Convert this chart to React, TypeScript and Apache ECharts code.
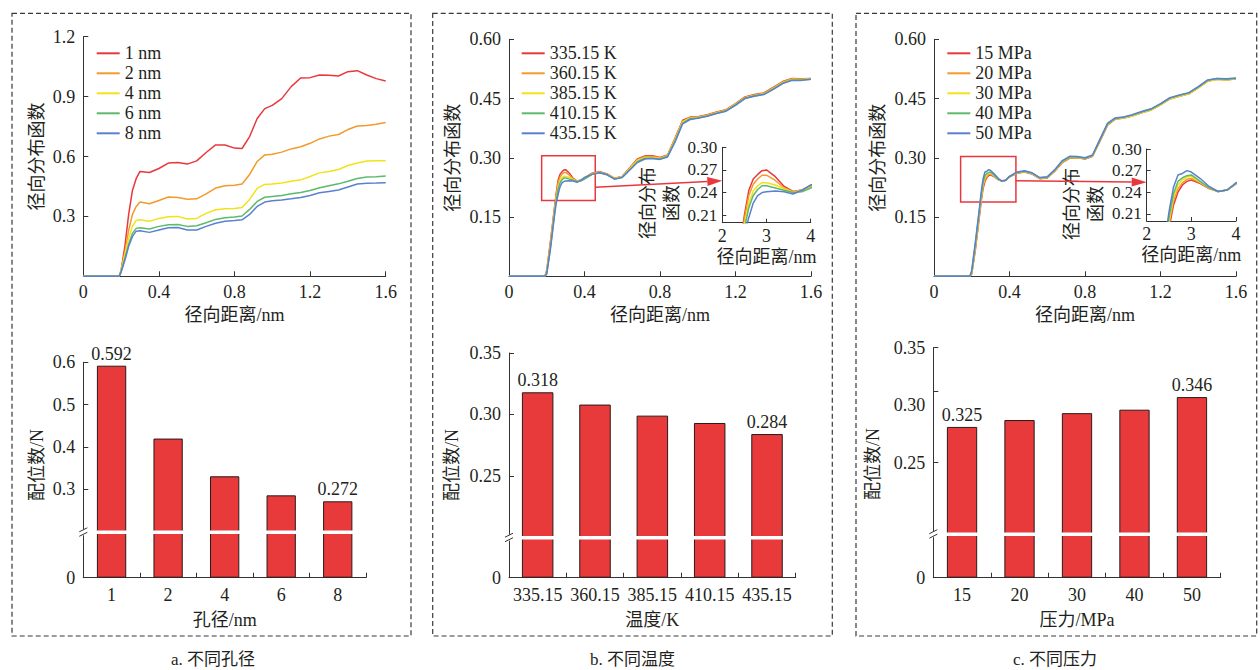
import React, { useEffect, useRef } from 'react';
import * as echarts from 'echarts';

const FONT = '"Liberation Serif", "Times New Roman", "Noto Sans CJK SC", serif';
const AX = '#333333';
const TXT = '#231f20';
const LINE_COLORS = ['#e8383d', '#f39a2b', '#f3e21a', '#5cba6a', '#5b80cf'];
const BAR_RED = '#e8393b';

// ---------- (a) pore size RDF ----------
const poreNames = ['1 nm', '2 nm', '4 nm', '6 nm', '8 nm'];
const poreX = [0, 0.19, 0.2, 0.22, 0.24, 0.26, 0.28, 0.3, 0.35, 0.4, 0.45, 0.5, 0.55, 0.6, 0.65, 0.7, 0.75, 0.8, 0.84, 0.88, 0.92, 0.96, 1.0, 1.05, 1.1, 1.15, 1.2, 1.25, 1.3, 1.35, 1.4, 1.45, 1.5, 1.55, 1.6];
const pore1 = [0, 0, 0.03, 0.15, 0.31, 0.43, 0.49, 0.525, 0.52, 0.54, 0.567, 0.57, 0.562, 0.578, 0.62, 0.658, 0.658, 0.642, 0.64, 0.7, 0.79, 0.84, 0.856, 0.89, 0.95, 0.993, 0.995, 1.008, 1.007, 1.003, 1.025, 1.03, 1.008, 0.99, 0.978];
const pore2 = [0, 0, 0.03, 0.12, 0.23, 0.31, 0.35, 0.372, 0.363, 0.38, 0.397, 0.395, 0.386, 0.388, 0.413, 0.442, 0.453, 0.456, 0.462, 0.51, 0.575, 0.608, 0.611, 0.622, 0.638, 0.649, 0.666, 0.688, 0.702, 0.71, 0.735, 0.753, 0.755, 0.761, 0.77];
const pore4 = [0, 0, 0.03, 0.11, 0.19, 0.25, 0.28, 0.283, 0.276, 0.29, 0.298, 0.3, 0.287, 0.29, 0.315, 0.333, 0.338, 0.34, 0.345, 0.385, 0.44, 0.46, 0.462, 0.467, 0.476, 0.483, 0.5, 0.518, 0.525, 0.535, 0.555, 0.567, 0.577, 0.579, 0.579];
const pore6 = [0, 0, 0.025, 0.09, 0.16, 0.215, 0.24, 0.243, 0.237, 0.25, 0.258, 0.259, 0.25, 0.253, 0.268, 0.285, 0.293, 0.297, 0.302, 0.335, 0.375, 0.396, 0.4, 0.405, 0.413, 0.42, 0.43, 0.443, 0.453, 0.463, 0.476, 0.49, 0.497, 0.499, 0.502];
const pore8 = [0, 0, 0.02, 0.08, 0.15, 0.2, 0.226, 0.228, 0.22, 0.232, 0.243, 0.244, 0.232, 0.232, 0.25, 0.266, 0.276, 0.279, 0.283, 0.31, 0.35, 0.372, 0.378, 0.382, 0.388, 0.395, 0.405, 0.418, 0.425, 0.432, 0.447, 0.462, 0.466, 0.467, 0.469];

// ---------- (b) temperature RDF ----------
const tempNames = ['335.15 K', '360.15 K', '385.15 K', '410.15 K', '435.15 K'];
const rdfX = [0, 0.19, 0.2, 0.22, 0.24, 0.25, 0.26, 0.27, 0.28, 0.29, 0.3, 0.32, 0.34, 0.36, 0.38, 0.4, 0.44, 0.48, 0.52, 0.56, 0.6, 0.64, 0.68, 0.72, 0.76, 0.8, 0.84, 0.88, 0.92, 0.96, 1.0, 1.05, 1.1, 1.15, 1.2, 1.25, 1.3, 1.35, 1.4, 1.45, 1.5, 1.55, 1.6];
const temp335 = [0, 0, 0.015, 0.09, 0.17, 0.21, 0.243, 0.258, 0.264, 0.269, 0.27, 0.261, 0.248, 0.2415, 0.2435, 0.249, 0.261, 0.265, 0.259, 0.248, 0.253, 0.275, 0.297, 0.305, 0.305, 0.301, 0.307, 0.35, 0.395, 0.403, 0.404, 0.409, 0.416, 0.422, 0.437, 0.454, 0.46, 0.464, 0.478, 0.493, 0.501, 0.5, 0.501];
const temp360 = [0, 0, 0.012, 0.085, 0.165, 0.205, 0.236, 0.251, 0.258, 0.263, 0.263, 0.256, 0.246, 0.241, 0.243, 0.248, 0.26, 0.264, 0.258, 0.248, 0.252, 0.274, 0.295, 0.303, 0.303, 0.3, 0.306, 0.348, 0.393, 0.402, 0.403, 0.408, 0.415, 0.421, 0.436, 0.453, 0.459, 0.463, 0.477, 0.492, 0.5, 0.499, 0.5];
const temp385 = [0, 0, 0.01, 0.08, 0.16, 0.198, 0.226, 0.242, 0.249, 0.253, 0.253, 0.25, 0.245, 0.24, 0.243, 0.247, 0.259, 0.263, 0.258, 0.247, 0.252, 0.272, 0.293, 0.301, 0.301, 0.298, 0.305, 0.346, 0.391, 0.4, 0.402, 0.407, 0.414, 0.42, 0.435, 0.452, 0.458, 0.462, 0.475, 0.49, 0.498, 0.498, 0.5];
const temp410 = [0, 0, 0.008, 0.075, 0.155, 0.192, 0.22, 0.236, 0.244, 0.249, 0.249, 0.246, 0.243, 0.24, 0.241, 0.246, 0.258, 0.262, 0.257, 0.246, 0.251, 0.27, 0.29, 0.299, 0.299, 0.297, 0.304, 0.343, 0.388, 0.399, 0.401, 0.406, 0.413, 0.419, 0.434, 0.451, 0.457, 0.461, 0.474, 0.489, 0.497, 0.497, 0.499];
const temp435 = [0, 0, 0.006, 0.07, 0.15, 0.185, 0.207, 0.226, 0.236, 0.24, 0.241, 0.242, 0.241, 0.238, 0.243, 0.25, 0.258, 0.262, 0.257, 0.246, 0.25, 0.269, 0.288, 0.297, 0.298, 0.296, 0.302, 0.34, 0.386, 0.397, 0.4, 0.405, 0.412, 0.418, 0.433, 0.45, 0.456, 0.46, 0.473, 0.488, 0.496, 0.496, 0.499];

// ---------- (c) pressure RDF ----------
const pressNames = ['15 MPa', '20 MPa', '30 MPa', '40 MPa', '50 MPa'];
const press15 = [0, 0, 0.006, 0.07, 0.15, 0.19, 0.222, 0.24, 0.25, 0.255, 0.257, 0.252, 0.245, 0.241, 0.243, 0.252, 0.261, 0.264, 0.259, 0.247, 0.249, 0.266, 0.288, 0.299, 0.3, 0.297, 0.304, 0.343, 0.383, 0.398, 0.4, 0.406, 0.414, 0.421, 0.434, 0.449, 0.456, 0.462, 0.477, 0.494, 0.499, 0.497, 0.5];
const press20 = [0, 0, 0.008, 0.075, 0.155, 0.195, 0.228, 0.245, 0.253, 0.258, 0.259, 0.253, 0.245, 0.241, 0.243, 0.252, 0.262, 0.265, 0.26, 0.248, 0.25, 0.267, 0.289, 0.3, 0.3, 0.298, 0.305, 0.344, 0.384, 0.399, 0.401, 0.407, 0.415, 0.422, 0.435, 0.45, 0.457, 0.463, 0.478, 0.495, 0.5, 0.498, 0.501];
const press30 = [0, 0, 0.01, 0.08, 0.16, 0.2, 0.233, 0.25, 0.257, 0.261, 0.262, 0.254, 0.246, 0.241, 0.243, 0.252, 0.262, 0.265, 0.26, 0.248, 0.25, 0.268, 0.29, 0.301, 0.301, 0.298, 0.305, 0.345, 0.385, 0.399, 0.401, 0.406, 0.414, 0.421, 0.434, 0.449, 0.456, 0.462, 0.477, 0.494, 0.499, 0.497, 0.5];
const press40 = [0, 0, 0.012, 0.085, 0.165, 0.205, 0.238, 0.255, 0.26, 0.263, 0.264, 0.255, 0.246, 0.241, 0.243, 0.252, 0.263, 0.266, 0.261, 0.249, 0.251, 0.269, 0.291, 0.302, 0.302, 0.299, 0.306, 0.346, 0.386, 0.4, 0.402, 0.408, 0.416, 0.423, 0.436, 0.451, 0.458, 0.464, 0.479, 0.496, 0.501, 0.499, 0.501];
const press50 = [0, 0, 0.015, 0.09, 0.17, 0.213, 0.247, 0.264, 0.266, 0.27, 0.268, 0.259, 0.248, 0.241, 0.243, 0.253, 0.264, 0.267, 0.262, 0.25, 0.252, 0.27, 0.293, 0.304, 0.303, 0.3, 0.307, 0.348, 0.388, 0.401, 0.403, 0.409, 0.417, 0.424, 0.437, 0.452, 0.459, 0.465, 0.48, 0.497, 0.501, 0.5, 0.502];

// zoom boxes [x1, y1, x2, y2] in main axes, and arrow anchors
const zoomBoxT = [0.173, 0.192, 0.457, 0.305];
const zoomBoxP = [0.141, 0.188, 0.434, 0.303];
const arrowT = { from: [0.457, 0.2253], to: [2, 0.2555] };
const arrowP = { from: [0.434, 0.242], to: [2, 0.2538] };

// inset tick values
const insetTicks = [0.21, 0.24, 0.27, 0.3];

// ---------- coordination numbers ----------
const poreCats = ['1', '2', '4', '6', '8'];
const poreCN = [0.592, 0.42, 0.331, 0.286, 0.272];
const poreCNLabels = ['0.592', '', '', '', '0.272'];
const poreTicks = [0.3, 0.4, 0.5, 0.6];

const tempCats = ['335.15', '360.15', '385.15', '410.15', '435.15'];
const tempCN = [0.318, 0.308, 0.299, 0.293, 0.284];
const tempCNLabels = ['0.318', '', '', '', '0.284'];
const tempTicks = [0.25, 0.3, 0.35];

const pressCats = ['15', '20', '30', '40', '50'];
const pressCN = [0.281, 0.287, 0.293, 0.296, 0.307];
const pressCNLabels = ['0.325', '', '', '', '0.346'];
const pressLabelTicks = [0.25, 0.3, 0.35];
const pressTickMarks = [0.25, 0.312, 0.35];

// ---------- layout ----------
// break band centres of the three bar charts
const BREAK_Y = [532.3, 537.7, 534.2];
const GRIDS = [
  { left: 83.3, top: 36.7, width: 302.4, height: 239.6 },
  { left: 509, top: 39.3, width: 302, height: 237 },
  { left: 722.3, top: 147.3, width: 88.4, height: 75.4 },
  { left: 934, top: 39.3, width: 302, height: 237 },
  { left: 1146.7, top: 149, width: 89.3, height: 72 },
  { left: 83.3, top: 362.3, width: 282.7, height: BREAK_Y[0] - 0.5 - 362.3 },
  { left: 83.3, top: BREAK_Y[0] + 0.5, width: 282.7, height: 577.7 - BREAK_Y[0] - 0.5 },
  { left: 509, top: 353, width: 286.7, height: BREAK_Y[1] - 0.5 - 353 },
  { left: 509, top: BREAK_Y[1] + 0.5, width: 286.7, height: 577.7 - BREAK_Y[1] - 0.5 },
  { left: 933.3, top: 347.7, width: 287.4, height: BREAK_Y[2] - 0.5 - 347.7 },
  { left: 933.3, top: BREAK_Y[2] + 0.5, width: 287.4, height: 577.7 - BREAK_Y[2] - 0.5 },
];

const txt = (size = 18) => ({ fontFamily: FONT, fontSize: size, color: TXT });
const axLine = { show: true, onZero: false, lineStyle: { color: AX, width: 1 } };

function rdfXAxis(gi: number) {
  return {
    type: 'value', gridIndex: gi, min: 0, max: 1.6, interval: 0.4,
    name: '径向距离/nm', nameLocation: 'middle', nameGap: 30, nameTextStyle: txt(18),
    axisLine: axLine,
    axisTick: { show: true, inside: true, length: 5, lineStyle: { color: AX } },
    axisLabel: { ...txt(18), margin: 7, formatter: (v: number) => String(v) },
    splitLine: { show: false },
  };
}
function insetXAxis(gi: number) {
  return {
    type: 'value', gridIndex: gi, min: 2, max: 4, interval: 1,
    name: '径向距离/nm', nameLocation: 'middle', nameGap: 25, nameTextStyle: txt(18),
    axisLine: axLine,
    axisTick: { show: true, inside: true, length: 4, lineStyle: { color: AX } },
    axisLabel: { ...txt(18), margin: 4 },
    splitLine: { show: false },
  };
}
function rdfYAxis(gi: number, max: number, interval: number, dec: number, nameGap: number) {
  return {
    type: 'value', gridIndex: gi, min: 0, max, interval,
    name: '径向分布函数', nameLocation: 'middle', nameRotate: 90, nameGap, nameTextStyle: txt(18),
    axisLine: axLine,
    axisTick: { show: true, inside: true, length: 5, lineStyle: { color: AX } },
    axisLabel: { ...txt(18), margin: 8, showMinLabel: false, formatter: (v: number) => (v === 0 ? '' : v.toFixed(dec)) },
    splitLine: { show: false },
  };
}
function insetYAxis(gi: number) {
  return {
    type: 'value', gridIndex: gi, min: 0.2, max: 0.3,
    axisLine: axLine,
    axisTick: { show: true, inside: true, length: 4, lineStyle: { color: AX }, customValues: insetTicks },
    axisLabel: { ...txt(17), margin: 5, customValues: insetTicks, formatter: (v: number) => v.toFixed(2) },
    splitLine: { show: false },
  };
}
function barXHidden(gi: number, cats: string[]) {
  return { type: 'category', gridIndex: gi, data: cats, show: false };
}
function barXAxis(gi: number, cats: string[], name: string) {
  return {
    type: 'category', gridIndex: gi, data: cats, boundaryGap: true,
    name, nameLocation: 'middle', nameGap: 33, nameTextStyle: txt(18),
    axisLine: axLine,
    axisTick: { show: true, inside: true, length: 5, lineStyle: { color: AX } },
    axisLabel: { ...txt(18), margin: 8, interval: 0, hideOverlap: false },
    splitLine: { show: false },
  };
}
function barYUpper(gi: number, min: number, max: number, ticks: number[], labels: number[], dec: number) {
  return {
    type: 'value', gridIndex: gi, min, max,
    axisLine: axLine,
    axisTick: { show: true, inside: true, length: 5, lineStyle: { color: AX }, customValues: ticks },
    axisLabel: { ...txt(18), margin: 8, customValues: labels, formatter: (v: number) => v.toFixed(dec) },
    splitLine: { show: false },
  };
}
function barYLower(gi: number) {
  return {
    type: 'value', gridIndex: gi, min: 0, max: 0.1,
    axisLine: axLine,
    axisTick: { show: false },
    axisLabel: { ...txt(18), margin: 8, customValues: [0], formatter: () => '0' },
    splitLine: { show: false },
  };
}

function lineSeries(name: string, color: string, xs: number[], ys: number[], ai: number, scale = 1, extra: any = {}) {
  return {
    type: 'line', name, xAxisIndex: ai, yAxisIndex: ai,
    data: xs.map((x, i) => [x * scale, ys[i]]),
    showSymbol: false, symbol: 'none', clip: true, silent: true,
    color, itemStyle: { color }, lineStyle: { color, width: 1.5 },
    ...extra,
  };
}
function boxMark(b: number[]) {
  return {
    markArea: {
      silent: true,
      itemStyle: { color: 'rgba(0,0,0,0)', borderColor: '#e8383d', borderWidth: 1.5 },
      label: { show: false },
      data: [[{ xAxis: b[0], yAxis: b[1] }, { xAxis: b[2], yAxis: b[3] }]],
    },
  };
}
function barSeries(name: string, data: number[], ai: number, barWidth: number, labels?: string[]) {
  return {
    type: 'bar', name, xAxisIndex: ai, yAxisIndex: ai, data, barWidth, clip: true, silent: true,
    itemStyle: { color: BAR_RED, borderColor: '#2a1a1a', borderWidth: 1 },
    label: labels
      ? { show: true, position: 'top', distance: 3, formatter: (p: any) => labels[p.dataIndex], ...txt(18) }
      : { show: false },
  };
}
function legend(left: number, names: string[]) {
  return {
    left, top: 43.3, orient: 'vertical', padding: 0, itemGap: 0,
    itemWidth: 23, itemHeight: 2, icon: 'rect', selectedMode: false,
    data: names, textStyle: { ...txt(18), lineHeight: 20 },
  };
}
function textEl(text: string, x: number, y: number, size = 18, rotate = false, lineHeight?: number) {
  return {
    type: 'text', x, y, rotation: rotate ? Math.PI / 2 : 0, silent: true, z: 10,
    style: {
      text, fill: TXT, font: `${size}px ${FONT}`, fontSize: size, fontFamily: FONT,
      align: 'center', verticalAlign: 'middle', textAlign: 'center', textVerticalAlign: 'middle',
      lineHeight: lineHeight || size + 2,
    },
  };
}

export default function App() {
  const ref = useRef<HTMLDivElement>(null);
  useEffect(() => {
    const chart = echarts.init(ref.current!, null, { renderer: 'svg' });
    const poreYs = [pore1, pore2, pore4, pore6, pore8];
    const tempYs = [temp335, temp360, temp385, temp410, temp435];
    const pressYs = [press15, press20, press30, press40, press50];

    const series: any[] = [];
    poreYs.forEach((ys, i) => series.push(lineSeries(poreNames[i], LINE_COLORS[i], poreX, ys, 0)));
    tempYs.forEach((ys, i) => series.push(lineSeries(tempNames[i], LINE_COLORS[i], rdfX, ys, 1, 1, i === 0 ? boxMark(zoomBoxT) : {})));
    tempYs.forEach((ys, i) => series.push(lineSeries(tempNames[i], LINE_COLORS[i], rdfX, ys, 2, 10)));
    pressYs.forEach((ys, i) => series.push(lineSeries(pressNames[i], LINE_COLORS[i], rdfX, ys, 3, 1, i === 0 ? boxMark(zoomBoxP) : {})));
    pressYs.forEach((ys, i) => series.push(lineSeries(pressNames[i], LINE_COLORS[i], rdfX, ys, 4, 10)));
    series.push(barSeries('poreCN', poreCN, 5, 29.3, poreCNLabels));
    series.push(barSeries('poreCNLow', poreCN, 6, 29.3));
    series.push(barSeries('tempCN', tempCN, 7, 31.5, tempCNLabels));
    series.push(barSeries('tempCNLow', tempCN, 8, 31.5));
    series.push(barSeries('pressCN', pressCN, 9, 30.3, pressCNLabels));
    series.push(barSeries('pressCNLow', pressCN, 10, 30.3));

    const option: any = {
      animation: false,
      backgroundColor: '#ffffff',
      textStyle: { fontFamily: FONT },
      grid: GRIDS.map((g) => ({ ...g, containLabel: false, outerBoundsMode: 'none' })),
      xAxis: [
        rdfXAxis(0), rdfXAxis(1), insetXAxis(2), rdfXAxis(3), insetXAxis(4),
        barXHidden(5, poreCats), barXAxis(6, poreCats, '孔径/nm'),
        barXHidden(7, tempCats), barXAxis(8, tempCats, '温度/K'),
        barXHidden(9, pressCats), barXAxis(10, pressCats, '压力/MPa'),
      ],
      yAxis: [
        rdfYAxis(0, 1.2, 0.3, 1, 37.6), rdfYAxis(1, 0.6, 0.15, 2, 47.3), insetYAxis(2),
        rdfYAxis(3, 0.6, 0.15, 2, 46.7), insetYAxis(4),
        barYUpper(5, 0.2, 0.6, poreTicks, poreTicks, 1), barYLower(6),
        barYUpper(7, 0.2, 0.35, tempTicks, tempTicks, 2), barYLower(8),
        barYUpper(9, 0.188, 0.35, pressTickMarks, pressLabelTicks, 2), barYLower(10),
      ],
      legend: [legend(96.7, poreNames), legend(521.7, tempNames), legend(947.3, pressNames)],
      series,
    };
    chart.setOption(option);

    const els: any[] = [];
    // dashed panel frames
    [[12, 399], [432.7, 399.6], [856, 400.7]].forEach(([x, w]) => {
      els.push({
        type: 'rect', silent: true, shape: { x, y: 13.3, width: w, height: 622.7 },
        style: { fill: 'none', stroke: '#3a3a3a', lineWidth: 1.2, lineDash: [5, 3] },
      });
    });
    // captions
    els.push(textEl('a. 不同孔径', 213, 659, 17));
    els.push(textEl('b. 不同温度', 632.5, 659, 17));
    els.push(textEl('c. 不同压力', 1055, 659, 17));
    // bar y names
    els.push(textEl('配位数/N', 36.7, 465, 18, true));
    els.push(textEl('配位数/N', 451.7, 465, 18, true));
    els.push(textEl('配位数/N', 873.3, 464, 18, true));
    // inset y names
    els.push(textEl('径向分布\n函数', 660, 203, 18, true, 24));
    els.push(textEl('径向分布\n函数', 1084, 204, 18, true, 24));
    // axis breaks: white band through the bars, and a double slash on the axis
    [5, 7, 9].forEach((u, k) => {
      const g = GRIDS[u];
      const x = g.left;
      const ym = BREAK_Y[k];
      els.push({ type: 'rect', silent: true, z: 50, shape: { x: x + 0.6, y: ym - 1.7, width: g.width, height: 3.4 }, style: { fill: '#ffffff' } });
      els.push({ type: 'rect', silent: true, z: 50, shape: { x: x - 5, y: ym - 3, width: 10, height: 6 }, style: { fill: '#ffffff' } });
      els.push({ type: 'line', silent: true, z: 51, shape: { x1: x - 4, y1: ym - 0.5, x2: x + 4, y2: ym - 4.5 }, style: { stroke: AX, lineWidth: 1 } });
      els.push({ type: 'line', silent: true, z: 51, shape: { x1: x - 4, y1: ym + 4, x2: x + 4, y2: ym }, style: { stroke: AX, lineWidth: 1 } });
    });
    // arrows from zoom boxes to insets
    const addArrow = (a: { from: number[]; to: number[] }, g1: number, g2: number) => {
      const p1 = chart.convertToPixel({ gridIndex: g1 } as any, a.from) as number[];
      const p2 = chart.convertToPixel({ gridIndex: g2 } as any, a.to) as number[];
      if (!p1 || !p2) return;
      const dx = p2[0] - p1[0], dy = p2[1] - p1[1];
      const len = Math.sqrt(dx * dx + dy * dy) || 1;
      const ux = dx / len, uy = dy / len;
      const bx = p2[0] - ux * 15, by = p2[1] - uy * 15;
      const nx = -uy, ny = ux;
      els.push({ type: 'line', silent: true, z: 20, shape: { x1: p1[0], y1: p1[1], x2: bx, y2: by }, style: { stroke: '#e8383d', lineWidth: 1.5 } });
      els.push({
        type: 'polygon', silent: true, z: 20,
        shape: { points: [[p2[0], p2[1]], [bx + nx * 4.5, by + ny * 4.5], [bx - nx * 4.5, by - ny * 4.5]] },
        style: { fill: '#e8383d' },
      });
    };
    addArrow(arrowT, 1, 2);
    addArrow(arrowP, 3, 4);
    chart.setOption({ graphic: { elements: els } });

    return () => chart.dispose();
  }, []);
  return (
    <div
      ref={ref}
      style={{ position: 'fixed', left: 0, top: 0, width: 1260, height: 670, background: '#ffffff' }}
    />
  );
}
